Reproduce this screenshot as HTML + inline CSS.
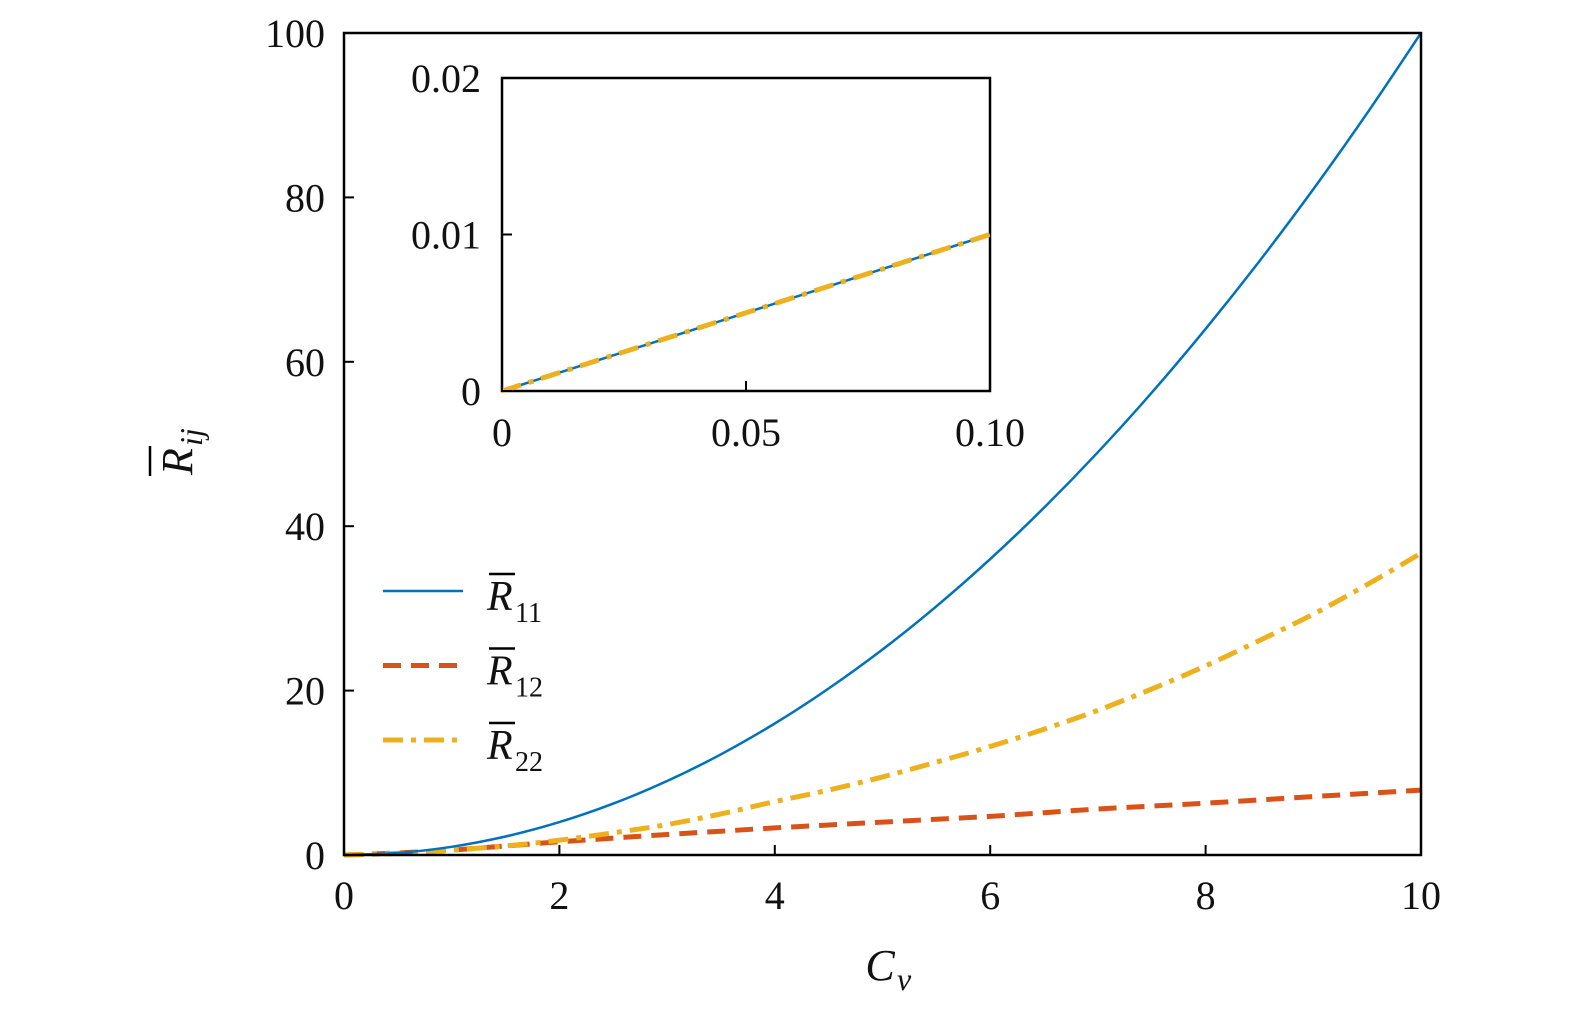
<!DOCTYPE html>
<html><head><meta charset="utf-8"><style>
body{margin:0;background:#fff}
svg text{font-family:"Liberation Serif",serif;fill:#111}
</style></head><body>
<svg id="chart" width="1575" height="1014" viewBox="0 0 1575 1014" xmlns="http://www.w3.org/2000/svg">
<g id="g"></g>
</svg>
<script>
const cv = [0,0.5,1,1.5,2,2.5,3,3.5,4,4.5,5,5.5,6,6.5,7,7.5,8,8.5,9,9.5,10];
const r11 = [0,0.25,1,2.25,4,6.25,9,12.25,16,20.25,25,30.25,36,42.25,49,56.25,64,72.25,81,90.25,100];
const r12 = [0,0.25,0.6,1.1,1.6,2.05,2.5,2.9,3.3,3.65,4.0,4.35,4.7,5.15,5.6,5.95,6.3,6.7,7.1,7.5,7.9];
const r22 = [0,0.2,0.6,1.1,1.8,2.7,3.7,5.0,6.5,7.9,9.5,11.3,13.2,15.3,17.6,20.2,23,26.1,29.3,32.9,36.7];
const xTicks = [0,2,4,6,8,10];
const yTicks = [0,20,40,60,80,100];
const insX = [0,0.05,0.10];
const insXLabels = ["0","0.05","0.10"];
const insYTicks = [0,0.01,0.02];
const insYLabels = ["0","0.01","0.02"];
const insCv = [0,0.05,0.10];
const insR = [0,0.005,0.01];

const NS="http://www.w3.org/2000/svg", g=document.getElementById('g');
function el(t,a,txt){const e=document.createElementNS(NS,t);for(const k in a)e.setAttribute(k,a[k]);if(txt!=null)e.textContent=txt;g.appendChild(e);return e;}
const X=v=>344+v*(1421-344)/10, Y=v=>855-v*(855-33)/100;
const iX=v=>502+v*(990-502)/0.1, iY=v=>391-v*(391-78)/0.02;
// smooth path via Catmull-Rom through the data points
function path(xs,ys,fx,fy){
  const p=xs.map((x,i)=>[fx(x),fy(ys[i])]);
  let d='M'+p[0][0].toFixed(1)+','+p[0][1].toFixed(1);
  for(let i=0;i<p.length-1;i++){
    const p0=p[Math.max(i-1,0)],p1=p[i],p2=p[i+1],p3=p[Math.min(i+2,p.length-1)];
    const c1=[p1[0]+(p2[0]-p0[0])/6,p1[1]+(p2[1]-p0[1])/6];
    const c2=[p2[0]-(p3[0]-p1[0])/6,p2[1]-(p3[1]-p1[1])/6];
    d+='C'+c1.map(v=>v.toFixed(1))+' '+c2.map(v=>v.toFixed(1))+' '+p2.map(v=>v.toFixed(1));
  }
  return d;
}

let e;
e=el('path',{d:path(cv,r12,X,Y),fill:'none',stroke:'#D95319','stroke-width':5,'stroke-dasharray':'18 10'});


e=el('path',{d:path(cv,r22,X,Y),fill:'none',stroke:'#EDB120','stroke-width':5,'stroke-dasharray':'20 8 5 8'});


e=el('path',{d:path(cv,r11,X,Y),fill:'none',stroke:'#0072BD','stroke-width':2.5});



e=el('rect',{x:344,y:33,width:1077,height:822,fill:'none',stroke:'#000','stroke-width':2.5});


xTicks.forEach(t=>{
  el('line',{x1:X(t),x2:X(t),y1:855,y2:845,stroke:'#000','stroke-width':2});
  e=el('text',{x:X(t),y:909,'font-size':40,'text-anchor':'middle'},String(t));
  
  
});
yTicks.forEach(t=>{
  el('line',{x1:344,x2:354,y1:Y(t),y2:Y(t),stroke:'#000','stroke-width':2});
  e=el('text',{x:325,y:Y(t)+14,'font-size':40,'text-anchor':'end'},String(t));
  
  
});
e=el('text',{x:880,y:980,'font-size':44,'font-style':'italic','text-anchor':'middle'},'C');


el('text',{x:897,y:990,'font-size':32,'font-style':'italic'},'v');
e=el('text',{x:0,y:0,'font-size':44,'font-style':'italic',transform:'translate(192,475) rotate(-90)'},'R');


el('text',{x:0,y:0,'font-size':32,'font-style':'italic',transform:'translate(202,446) rotate(-90)'},'ij');
el('line',{x1:150,x2:150,y1:446,y2:476,stroke:'#000','stroke-width':2.5});

// inset
e=el('rect',{x:502,y:78,width:488,height:313,fill:'#fff',stroke:'#000','stroke-width':2.5});


e=el('path',{d:path(insCv,insR,iX,iY),fill:'none',stroke:'#0072BD','stroke-width':2.5});


e=el('path',{d:path(insCv,insR,iX,iY),fill:'none',stroke:'#EDB120','stroke-width':5,'stroke-dasharray':'20 8 5 8'});


insX.forEach((t,i)=>{
  el('line',{x1:iX(t),x2:iX(t),y1:391,y2:381,stroke:'#000','stroke-width':2});
  e=el('text',{x:iX(t),y:446,'font-size':40,'text-anchor':'middle'},insXLabels[i]);
  
  
});
insYTicks.forEach((t,i)=>{
  el('line',{x1:502,x2:512,y1:iY(t),y2:iY(t),stroke:'#000','stroke-width':2});
  e=el('text',{x:481,y:iY(t)+14,'font-size':40,'text-anchor':'end'},insYLabels[i]);
  
  
});

// legend
const leg=[['11','#0072BD',2.5,''],['12','#D95319',5,'18 10'],['22','#EDB120',5,'20 8 5 8']];
leg.forEach((l,i)=>{
  const y=591+i*74.5;
  e=el('line',{x1:383,x2:463,y1:y,y2:y,stroke:l[1],'stroke-width':l[2],'stroke-dasharray':l[3]});
  
  
  el('text',{x:487,y:y+19,'font-size':42,'font-style':'italic'},'R');
  el('line',{x1:489,x2:515,y1:y-17,y2:y-17,stroke:'#000','stroke-width':2.5});
  el('text',{x:515,y:y+31,'font-size':28},l[0]);
});
</script>
</body></html>
